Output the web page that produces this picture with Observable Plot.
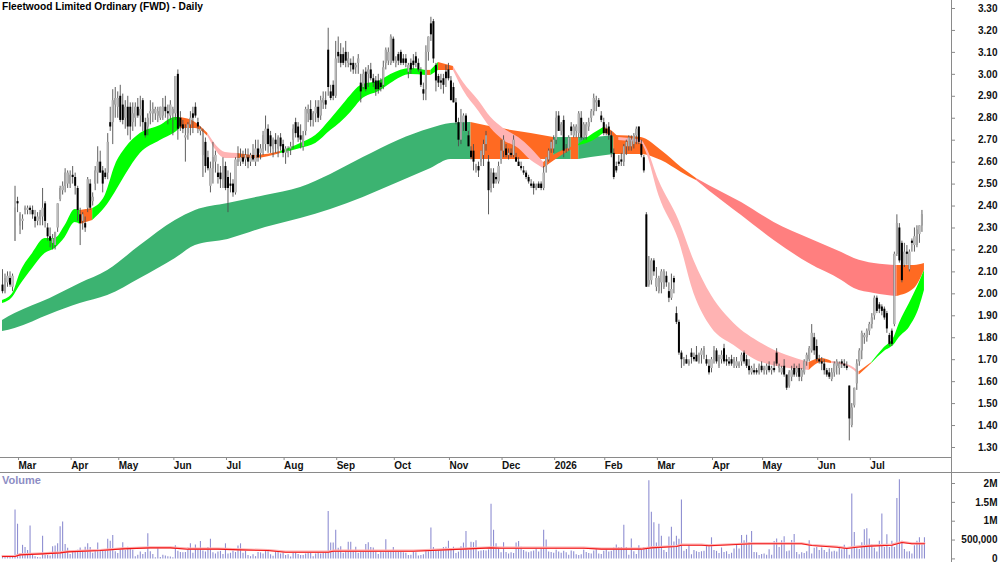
<!DOCTYPE html>
<html><head><meta charset="utf-8">
<script src="https://cdn.jsdelivr.net/npm/d3@7"></script>
<script src="https://cdn.jsdelivr.net/npm/@observablehq/plot@0.6"></script>
<style>
html,body{margin:0;padding:0;background:#fff;overflow:hidden}
#page{position:relative;width:1000px;height:562px;font-family:"Liberation Sans",Arial,sans-serif}
#price,#vol{position:absolute;left:0}
#price{top:0}#vol{top:472px}
#title{position:absolute;left:2px;top:1px;font-size:10.2px;font-weight:bold;color:#000;z-index:2}
#vlabel{position:absolute;left:2px;top:474px;font-size:11px;font-weight:bold;color:#8d8dc4;z-index:2}
.hline{position:absolute;left:0;height:1px;background:#8a8a8a}
.vline{position:absolute;left:951px;top:0;width:1px;height:562px;background:#8a8a8a}
</style></head><body>
<div id="page">
<div id="title">Fleetwood Limited Ordinary (FWD) - Daily</div>
<div id="vlabel">Volume</div>
<div id="price"></div><div id="vol"></div>
<div class="hline" style="top:472px;width:1000px"></div>
<div class="vline"></div>
</div>
<script>
// open, high, low, close per trading day, grouped by stretch of the chart
const candlesFeb=[[2.04,2.11,2.00,2.01],[2.01,2.09,2.00,2.07],[2.05,2.10,2.03,2.08],[2.07,2.10,2.03,2.04],[2.03,2.09,2.01,2.08],[2.24,2.49,2.24,2.39]];
const candlesMar=[[2.42,2.44,2.37,2.41],[2.31,2.37,2.27,2.36],[2.33,2.36,2.29,2.34],[2.38,2.40,2.36,2.39],[2.38,2.40,2.36,2.39],[2.39,2.40,2.36,2.38],[2.38,2.40,2.34,2.36],[2.35,2.38,2.30,2.33],[2.33,2.37,2.31,2.35],[2.34,2.38,2.31,2.37],[2.35,2.48,2.31,2.39],[2.41,2.42,2.30,2.33],[2.30,2.32,2.24,2.26],[2.26,2.30,2.21,2.24],[2.23,2.27,2.20,2.25],[2.22,2.28,2.20,2.28],[2.30,2.41,2.28,2.41],[2.43,2.49,2.42,2.48],[2.47,2.51,2.45,2.49],[2.49,2.57,2.46,2.55],[2.50,2.56,2.48,2.55]];
const candlesApr=[[2.50,2.56,2.48,2.54],[2.54,2.58,2.50,2.53],[2.53,2.55,2.45,2.49],[2.48,2.49,2.33,2.38],[2.36,2.39,2.22,2.32],[2.33,2.37,2.29,2.36],[2.32,2.35,2.28,2.30],[2.39,2.53,2.37,2.52],[2.50,2.52,2.38,2.39],[2.42,2.46,2.40,2.44],[2.50,2.58,2.47,2.56],[2.55,2.67,2.50,2.60],[2.60,2.65,2.55,2.55],[2.56,2.58,2.46,2.50],[2.55,2.57,2.52,2.53],[2.55,2.73,2.52,2.69],[2.78,2.85,2.74,2.76],[2.78,2.93,2.68,2.88],[2.86,2.94,2.80,2.89]];
const candlesMay=[[2.85,2.92,2.80,2.89],[2.90,2.95,2.78,2.79],[2.86,2.91,2.77,2.79],[2.80,2.88,2.75,2.85],[2.85,2.90,2.72,2.76],[2.85,2.87,2.70,2.76],[2.78,2.87,2.74,2.82],[2.80,2.87,2.76,2.85],[2.85,2.89,2.80,2.81],[2.81,2.90,2.76,2.84],[2.88,2.89,2.74,2.78],[2.78,2.80,2.71,2.72],[2.76,2.82,2.72,2.80],[2.82,2.88,2.77,2.83],[2.82,2.87,2.78,2.84],[2.82,2.85,2.79,2.84],[2.81,2.85,2.78,2.83],[2.80,2.85,2.79,2.85],[2.81,2.89,2.79,2.85],[2.85,2.90,2.80,2.83],[2.83,2.86,2.77,2.82],[2.81,2.88,2.79,2.86],[2.82,2.85,2.72,2.84]];
const candlesJun=[[2.82,2.99,2.79,2.99],[3.00,3.02,2.70,2.75],[2.80,2.83,2.74,2.76],[2.77,2.79,2.73,2.75],[2.71,2.77,2.60,2.72],[2.73,2.78,2.70,2.77],[2.77,2.83,2.72,2.80],[2.82,2.85,2.73,2.80],[2.85,2.87,2.80,2.81],[2.78,2.80,2.73,2.76],[2.74,2.76,2.72,2.75],[2.63,2.75,2.53,2.73],[2.69,2.71,2.55,2.58],[2.62,2.65,2.56,2.57],[2.49,2.60,2.46,2.57],[2.57,2.69,2.50,2.62],[2.60,2.65,2.55,2.63],[2.55,2.59,2.50,2.53],[2.55,2.58,2.48,2.52],[2.52,2.62,2.48,2.58]];
const candlesJul=[[2.58,2.60,2.47,2.48],[2.53,2.56,2.37,2.48],[2.50,2.55,2.46,2.49],[2.50,2.52,2.44,2.46],[2.46,2.62,2.45,2.61],[2.60,2.67,2.58,2.61],[2.60,2.66,2.58,2.62],[2.62,2.65,2.59,2.60],[2.61,2.66,2.58,2.63],[2.62,2.66,2.57,2.60],[2.60,2.64,2.58,2.63],[2.63,2.68,2.60,2.61],[2.60,2.70,2.58,2.66],[2.66,2.70,2.60,2.62],[2.64,2.68,2.61,2.66],[2.66,2.74,2.63,2.72],[2.68,2.81,2.65,2.75],[2.75,2.77,2.64,2.68],[2.72,2.74,2.64,2.67],[2.66,2.71,2.62,2.70],[2.70,2.73,2.64,2.68],[2.66,2.72,2.62,2.71],[2.71,2.73,2.65,2.67]];
const candlesAug=[[2.68,2.70,2.62,2.64],[2.64,2.67,2.59,2.66],[2.64,2.67,2.62,2.65],[2.66,2.69,2.63,2.67],[2.70,2.77,2.66,2.75],[2.78,2.80,2.71,2.73],[2.76,2.78,2.69,2.71],[2.72,2.77,2.66,2.70],[2.67,2.74,2.65,2.72],[2.74,2.85,2.72,2.84],[2.82,2.86,2.78,2.84],[2.84,2.88,2.76,2.79],[2.79,2.83,2.76,2.82],[2.82,2.88,2.78,2.85],[2.85,2.88,2.78,2.80],[2.81,2.90,2.79,2.88],[2.87,2.92,2.84,2.89],[2.88,2.92,2.84,2.86],[3.11,3.21,2.90,2.94],[2.92,2.95,2.88,2.89],[2.95,2.97,2.88,2.90]];
const candlesSep=[[2.90,3.15,2.89,3.07],[3.10,3.17,3.05,3.08],[3.09,3.14,3.03,3.05],[3.09,3.12,3.04,3.05],[3.10,3.15,3.03,3.06],[3.05,3.10,3.03,3.07],[3.05,3.07,3.01,3.04],[3.05,3.08,3.00,3.02],[3.03,3.05,3.00,3.04],[3.05,3.09,3.00,3.07],[2.96,3.00,2.87,2.92],[2.94,3.02,2.93,3.00],[3.01,3.03,2.92,2.93],[3.00,3.04,2.94,3.02],[3.02,3.05,2.97,2.98],[2.98,3.00,2.94,2.96],[2.97,2.99,2.90,2.93],[2.97,3.00,2.91,2.93],[2.96,2.98,2.92,2.94],[2.95,3.06,2.93,3.03],[3.05,3.12,3.02,3.11],[3.06,3.12,3.04,3.10]];
const candlesOct=[[3.05,3.18,3.04,3.17],[3.16,3.17,3.05,3.06],[3.05,3.08,3.03,3.06],[3.09,3.10,3.04,3.06],[3.10,3.11,3.04,3.05],[3.07,3.09,3.04,3.05],[3.07,3.09,3.03,3.05],[3.01,3.05,2.98,3.04],[3.05,3.07,3.00,3.02],[3.06,3.09,3.02,3.04],[3.08,3.10,3.03,3.05],[3.05,3.07,3.01,3.02],[3.01,3.03,2.94,2.95],[2.93,2.96,2.88,2.91],[2.93,3.13,2.88,3.10],[3.10,3.17,3.06,3.17],[3.23,3.26,3.15,3.18],[3.24,3.25,3.05,3.07],[3.04,3.05,2.92,2.97],[2.99,3.00,2.94,2.96],[2.97,3.00,2.93,2.96],[2.98,3.00,2.91,2.95],[3.01,3.04,2.94,2.98]];
const candlesNov=[[3.02,3.05,2.97,2.98],[2.97,2.99,2.88,2.88],[2.94,2.96,2.87,2.87],[2.87,2.89,2.77,2.78],[2.78,2.80,2.67,2.70],[2.70,2.84,2.68,2.78],[2.78,2.82,2.74,2.81],[2.81,2.82,2.74,2.74],[2.72,2.74,2.67,2.67],[2.65,2.67,2.61,2.62],[2.65,2.68,2.56,2.60],[2.57,2.59,2.55,2.58],[2.58,2.60,2.53,2.56],[2.60,2.65,2.58,2.65],[2.63,2.70,2.58,2.68],[2.68,2.74,2.65,2.72],[2.60,2.63,2.36,2.47],[2.48,2.57,2.46,2.55],[2.55,2.57,2.48,2.50],[2.53,2.55,2.50,2.52],[2.51,2.60,2.50,2.58]];
const candlesDec=[[2.61,2.70,2.59,2.65],[2.65,2.72,2.62,2.70],[2.66,2.68,2.62,2.63],[2.63,2.66,2.61,2.64],[2.64,2.66,2.62,2.63],[2.63,2.72,2.62,2.70],[2.62,2.64,2.60,2.60],[2.60,2.62,2.58,2.58],[2.58,2.60,2.56,2.57],[2.56,2.58,2.54,2.55],[2.55,2.56,2.52,2.53],[2.53,2.54,2.50,2.51],[2.50,2.52,2.48,2.49],[2.50,2.51,2.45,2.48],[2.48,2.50,2.47,2.49],[2.50,2.51,2.48,2.48],[2.50,2.51,2.47,2.48],[2.48,2.58,2.47,2.55],[2.58,2.62,2.55,2.62],[2.61,2.66,2.60,2.65],[2.66,2.70,2.64,2.69]];
const candlesJan=[[2.66,2.72,2.64,2.70],[2.70,2.83,2.68,2.80],[2.81,2.83,2.74,2.74],[2.74,2.78,2.72,2.77],[2.79,2.81,2.62,2.65],[2.66,2.68,2.64,2.66],[2.66,2.72,2.65,2.71],[2.76,2.78,2.72,2.74],[2.72,2.77,2.71,2.76],[2.74,2.77,2.71,2.76],[2.73,2.83,2.71,2.82],[2.80,2.83,2.70,2.71],[2.71,2.78,2.70,2.77],[2.72,2.78,2.70,2.77],[2.76,2.80,2.74,2.78],[2.80,2.84,2.78,2.83],[2.83,2.91,2.81,2.89],[2.87,2.90,2.83,2.88],[2.88,2.89,2.85,2.85],[2.81,2.83,2.78,2.79]];
const candlesFeb26=[[2.78,2.80,2.72,2.73],[2.75,2.77,2.72,2.73],[2.76,2.78,2.70,2.72],[2.72,2.74,2.62,2.64],[2.64,2.66,2.52,2.53],[2.58,2.60,2.55,2.56],[2.60,2.63,2.58,2.59],[2.61,2.64,2.58,2.60],[2.60,2.68,2.58,2.67],[2.67,2.70,2.63,2.69],[2.67,2.72,2.65,2.71],[2.67,2.72,2.65,2.70],[2.68,2.73,2.66,2.72],[2.72,2.76,2.68,2.75],[2.76,2.76,2.68,2.69],[2.68,2.70,2.62,2.63],[2.62,2.63,2.55,2.56],[2.36,2.37,2.03,2.03],[2.04,2.17,2.03,2.06],[2.06,2.16,2.04,2.15]];
const candlesMar26=[[2.15,2.16,2.08,2.10],[2.03,2.12,2.01,2.07],[2.01,2.08,2.00,2.07],[2.05,2.11,2.00,2.10],[2.03,2.11,2.02,2.10],[2.08,2.10,2.03,2.05],[2.01,2.05,1.96,1.98],[1.98,2.09,1.97,2.02],[2.07,2.08,2.00,2.05],[1.91,1.94,1.86,1.87],[1.87,1.88,1.72,1.73],[1.73,1.74,1.66,1.70],[1.68,1.71,1.67,1.70],[1.70,1.72,1.68,1.68],[1.68,1.70,1.67,1.69],[1.73,1.75,1.68,1.71],[1.71,1.73,1.69,1.70],[1.72,1.76,1.69,1.69],[1.69,1.73,1.68,1.72],[1.72,1.75,1.68,1.74],[1.71,1.76,1.70,1.75],[1.70,1.72,1.67,1.68],[1.67,1.70,1.63,1.64]];
const candlesApr26=[[1.66,1.71,1.64,1.70],[1.70,1.76,1.68,1.74],[1.74,1.75,1.68,1.69],[1.67,1.72,1.66,1.71],[1.70,1.74,1.68,1.72],[1.75,1.77,1.68,1.69],[1.70,1.72,1.67,1.69],[1.69,1.71,1.67,1.68],[1.70,1.72,1.67,1.68],[1.69,1.71,1.66,1.70],[1.67,1.71,1.66,1.69],[1.67,1.69,1.66,1.68],[1.69,1.73,1.67,1.72],[1.73,1.74,1.68,1.69],[1.70,1.72,1.66,1.67],[1.67,1.70,1.63,1.65],[1.64,1.67,1.63,1.66],[1.65,1.68,1.63,1.64],[1.65,1.66,1.63,1.64],[1.64,1.68,1.63,1.67]];
const candlesMay26=[[1.67,1.69,1.64,1.65],[1.65,1.67,1.63,1.66],[1.65,1.68,1.63,1.67],[1.67,1.69,1.64,1.65],[1.65,1.67,1.63,1.66],[1.66,1.69,1.64,1.65],[1.73,1.75,1.67,1.68],[1.66,1.68,1.64,1.67],[1.64,1.67,1.63,1.66],[1.67,1.70,1.62,1.63],[1.63,1.63,1.56,1.57],[1.58,1.65,1.57,1.64],[1.62,1.67,1.60,1.65],[1.66,1.68,1.62,1.63],[1.64,1.67,1.62,1.66],[1.66,1.68,1.60,1.62],[1.62,1.66,1.60,1.65],[1.64,1.70,1.63,1.69],[1.69,1.73,1.67,1.72],[1.70,1.76,1.69,1.75],[1.74,1.86,1.73,1.82]];
const candlesJun26=[[1.80,1.82,1.72,1.74],[1.76,1.79,1.69,1.70],[1.70,1.72,1.68,1.69],[1.69,1.71,1.65,1.68],[1.68,1.70,1.63,1.65],[1.65,1.66,1.62,1.63],[1.64,1.66,1.61,1.62],[1.61,1.66,1.60,1.64],[1.64,1.69,1.62,1.68],[1.67,1.70,1.63,1.69],[1.66,1.69,1.63,1.68],[1.69,1.70,1.66,1.68],[1.68,1.70,1.66,1.67],[1.67,1.69,1.65,1.66],[1.58,1.58,1.33,1.43],[1.40,1.50,1.39,1.48],[1.49,1.57,1.48,1.57],[1.59,1.70,1.56,1.68],[1.69,1.75,1.67,1.74],[1.74,1.83,1.70,1.82],[1.80,1.82,1.77,1.81]];
const candlesJul26=[[1.80,1.84,1.78,1.83],[1.83,1.87,1.81,1.86],[1.86,1.91,1.84,1.89],[1.90,1.99,1.88,1.98],[1.98,1.99,1.91,1.92],[1.95,1.96,1.91,1.93],[1.94,1.95,1.90,1.92],[1.93,1.94,1.88,1.89],[1.91,1.92,1.82,1.84],[1.81,1.82,1.76,1.77],[1.83,1.84,1.76,1.77],[1.86,2.19,1.85,2.18],[2.18,2.36,2.17,2.32],[2.30,2.32,2.14,2.15],[2.23,2.24,2.05,2.06],[2.13,2.23,2.12,2.19],[2.19,2.22,2.13,2.18],[2.11,2.20,2.10,2.19],[2.24,2.25,2.19,2.23],[2.22,2.30,2.19,2.26],[2.22,2.31,2.21,2.29],[2.27,2.31,2.23,2.31],[2.31,2.38,2.28,2.36]];

// volume in thousands of shares, per trading day, in chunks of a hundred
const volumesA=[80,60,50,50,70,1300,920,130,360,300,220,870,100,60,40,30,600,100,90,80,320,340,400,850,980,380,280,120,200,190,230,290,200,310,400,300,150,220,420,230,230,240,520,470,620,190,140,230,430,220,310,250,230,60,100,180,120,170,670,190,120,30,290,40,100,80,60,50,30,350,200,170,160,170,290,400,150,370,240,460,210,180,300,520,160,130,180,200,120,400,130,150,200,170,340,400,150,200,90,60];
const volumesB=[110,60,170,160,130,230,200,110,70,190,170,130,180,90,110,50,140,170,120,90,90,130,140,150,60,130,160,130,150,180,1260,420,420,760,280,320,150,180,440,440,200,310,150,170,180,380,430,300,290,180,120,180,160,510,190,170,300,170,170,170,160,150,90,100,180,160,80,90,110,210,190,820,300,240,240,220,300,310,470,230,310,140,180,320,420,730,220,440,430,480,190,210,220,210,240,1450,760,400,300,160];
const volumesC=[430,170,130,160,140,420,460,310,220,180,160,190,210,260,180,250,760,500,180,170,150,230,180,150,200,160,100,210,190,110,90,110,230,170,140,130,210,270,130,120,200,250,180,200,290,370,300,300,890,300,100,530,190,120,350,230,300,250,2070,1240,960,420,920,600,220,170,580,840,450,600,520,1560,200,250,360,110,220,190,170,190,200,340,340,560,220,200,140,290,170,190,120,150,260,380,260,620,480,630,430,730];
const volumesD=[170,160,90,120,130,100,240,100,460,530,300,480,590,190,210,490,650,170,110,160,140,190,480,130,280,300,220,290,220,170,260,180,200,180,330,240,360,300,100,1720,700,270,250,430,770,800,530,370,280,180,470,1190,300,640,300,470,300,1600,2100,470,250,180,190,130,350,470,560,370,560];

// volume moving average, read at turning points: day, thousands
const maDays=[0,5,7,16,23,26,39,48,59,67,74,86,95,106,113,130,132,164,186,195,199,232,239,255,259,269,271,279,282,293,299,319,323,333,337,341,346,355,359,363,368];
const maValues=[62,62,107,133,160,187,222,267,293,293,258,258,240,222,178,178,204,204,267,293,284,284,258,258,293,329,364,364,347,382,400,400,356,311,276,311,338,364,436,400,400];

// slow moving-average ribbon: day, upper edge, lower edge, state from that day on
const slowDays=[0,5,19,31,42,55,69,77,90,105,119,131,144,158,171,179,187,199,211,220,227,230,235,244,255,263,271,277,282,295,308,322,335,340,348,357,364,368];
const slowTops=[1.879,1.91,1.979,2.047,2.106,2.22,2.334,2.38,2.412,2.448,2.484,2.544,2.621,2.699,2.753,2.776,2.781,2.753,2.73,2.712,2.712,2.712,2.712,2.721,2.712,2.653,2.576,2.526,2.494,2.416,2.325,2.252,2.188,2.161,2.138,2.129,2.129,2.138];
const slowBottoms=[1.828,1.842,1.906,1.956,1.992,2.07,2.161,2.22,2.248,2.302,2.343,2.384,2.439,2.507,2.571,2.612,2.612,2.612,2.612,2.612,2.612,2.612,2.621,2.635,2.635,2.607,2.553,2.516,2.47,2.357,2.243,2.138,2.061,2.024,2.002,1.988,2.024,2.106];
const slowStates=["up","up","up","up","up","up","up","up","up","up","up","up","up","up","up","up","mixed","mixed","mixed","up","mixed","up","up","mixed","mixed","mixed","mixed","down","down","down","down","down","down","down","down","mixed","mixed","mixed"];

// fast moving-average ribbon
const fastDays=[0,4,7,12,17,21,25,29,31,36,41,45,49,55,63,69,71,77,82,89,94,101,111,119,125,131,135,139,143,151,155,163,169,171,174,180,184,190,195,200,206,211,216,217,230,236,240,243,246,255,257,262,270,276,283,292,303,322,327,331,338,342,347,352,356,358,362,366,368];
const fastTops=[1.97,2.0,2.093,2.184,2.252,2.252,2.311,2.384,2.38,2.389,2.448,2.585,2.662,2.73,2.767,2.803,2.803,2.781,2.73,2.644,2.639,2.63,2.648,2.685,2.721,2.794,2.849,2.904,2.949,2.972,2.999,3.027,3.018,3.018,3.054,3.036,2.963,2.881,2.803,2.753,2.712,2.662,2.598,2.607,2.68,2.73,2.758,2.744,2.712,2.699,2.667,2.516,2.334,2.152,1.992,1.865,1.774,1.687,1.705,1.692,1.675,1.645,1.687,1.755,1.805,1.865,1.956,2.052,2.106];
const fastBottoms=[1.956,1.983,2.038,2.116,2.184,2.207,2.257,2.325,2.316,2.334,2.393,2.462,2.539,2.639,2.699,2.735,2.753,2.753,2.717,2.617,2.617,2.617,2.639,2.662,2.685,2.744,2.781,2.826,2.881,2.926,2.958,2.999,2.995,2.995,3.018,3.018,2.926,2.833,2.753,2.699,2.662,2.607,2.571,2.58,2.675,2.699,2.73,2.721,2.699,2.685,2.644,2.448,2.243,2.002,1.846,1.765,1.687,1.651,1.687,1.683,1.665,1.63,1.683,1.737,1.769,1.801,1.847,1.938,2.015];
const fastStates=["fastUp","fastUp","fastUp","fastUp","fastUp","fastUp","fastUp","fastUp","mixed","fastUp","fastUp","fastUp","fastUp","fastUp","fastUp","fastUp","mixed","mixed","fastDown","fastDown","mixed","mixed","fastUp","fastUp","fastUp","fastUp","fastUp","fastUp","fastUp","fastUp","fastUp","fastUp","mixed","fastUp","mixed","fastDown","fastDown","fastDown","fastDown","fastDown","fastDown","fastDown","mixed","mixed","fastUp","fastUp","mixed","mixed","fastDown","fastDown","fastDown","fastDown","fastDown","fastDown","fastDown","fastDown","fastDown","mixed","mixed","fastDown","fastDown","mixed","fastUp","fastUp","fastUp","fastUp","fastUp","fastUp","fastUp"];

const stateNames=["up","mixed","down","fastUp","fastDown"];
const stateColors=["#3cb371","#ff6a22","#ff7f7f","#00ff00","#ffb3b3"];
const monthDays=[6,27,46,68,89,112,133,156,178,199,220,240,261,283,303,325,346];
const monthLabels=["Mar","Apr","May","Jun","Jul","Aug","Sep","Oct","Nov","Dec","2026","Feb","Mar","Apr","May","Jun","Jul"];
const priceTicks=[1.3,1.4,1.5,1.6,1.7,1.8,1.9,2.0,2.1,2.2,2.3,2.4,2.5,2.6,2.7,2.8,2.9,3.0,3.1,3.2,3.3];
const volumeTicks=[0,500000,1000000,1500000,2000000];
const volumeTickLabels=["0","500,000","1M","1.5M","2M"];

const candles=[...candlesFeb,...candlesMar,...candlesApr,...candlesMay,...candlesJun,...candlesJul,...candlesAug,...candlesSep,...candlesOct,...candlesNov,...candlesDec,...candlesJan,...candlesFeb26,...candlesMar26,...candlesApr26,...candlesMay26,...candlesJun26,...candlesJul26]
  .map(([open,high,low,close],day)=>({day,open,high,low,close,top:Math.max(open,close),bot:Math.min(open,close)}));
const ups=candles.filter(d=>d.close>=d.open), downs=candles.filter(d=>d.close<d.open);
const volumes=[...volumesA,...volumesB,...volumesC,...volumesD].map((v,day)=>({day,volume:v*1000}));
const avg=maDays.map((day,i)=>({day,value:maValues[i]*1000}));

// split a ribbon into runs of one state, sharing the knot where the state changes
function runs(days,tops,bottoms,states,prefix){
  const rows=[];let run=0;
  for(let i=0;i<days.length;i++){
    const s=states[i];
    rows.push({day:days[i],top:tops[i],bottom:bottoms[i],state:s,run:prefix+run});
    if(i+1<days.length&&states[i+1]!==s){
      run++;
      rows.push({day:days[i+1],top:tops[i+1],bottom:bottoms[i+1],state:s,run:prefix+(run-1)});
    }
  }
  return rows;
}
const slow=runs(slowDays,slowTops,slowBottoms,slowStates,"s");
const fast=runs(fastDays,fastTops,fastBottoms,fastStates,"f");

const xOpts={type:"linear",domain:[-0.8,378.8],range:[0,951],axis:null};
const font='"Liberation Sans",Arial,sans-serif';

const price=Plot.plot({
  width:1000,height:472,marginTop:0,marginBottom:15,marginLeft:0,marginRight:49,
  style:{fontFamily:font,background:"transparent"},
  x:xOpts,
  y:{domain:[1.2544,3.3364],range:[457,0],axis:null},
  color:{domain:stateNames,range:stateColors},
  marks:[
    Plot.areaY(slow,{x:"day",y1:"bottom",y2:"top",z:"run",fill:"state",curve:"monotone-x"}),
    Plot.areaY(fast,{x:"day",y1:"bottom",y2:"top",z:"run",fill:"state",curve:"monotone-x"}),
    Plot.ruleX(candles,{x:"day",y1:"low",y2:"high",stroke:"#4d4d4d",strokeWidth:0.9}),
    Plot.ruleX(ups,{x:"day",y1:"bot",y2:"top",stroke:"#7d7d7d",strokeWidth:2,strokeLinecap:"butt"}),
    Plot.ruleX(ups,{x:"day",y1:"bot",y2:"top",stroke:"#d8d8d8",strokeWidth:0.8}),
    Plot.ruleX(downs,{x:"day",y1:"bot",y2:"top",stroke:"#000",strokeWidth:2}),
    Plot.ruleY([1.2544],{stroke:"#8a8a8a"}),
    Plot.axisY(priceTicks,{anchor:"right",tickSize:3,tickPadding:43,textAnchor:"end",tickFormat:d=>d.toFixed(2),
      fontSize:10,fontWeight:"bold",fill:"#111",stroke:"#8a8a8a",textStroke:"none",label:null}),
    Plot.axisX(monthDays,{anchor:"bottom",tickSize:3,tickPadding:1,textAnchor:"start",dx:1,tickFormat:(d,i)=>monthLabels[i],
      fontSize:10,fontWeight:"bold",fill:"#111",stroke:"#8a8a8a",textStroke:"none",label:null})
  ]
});
document.getElementById("price").appendChild(price);

const vol=Plot.plot({
  width:1000,height:90,marginTop:0,marginBottom:3.6,marginLeft:0,marginRight:49,
  style:{fontFamily:font,background:"transparent"},
  x:xOpts,
  y:{domain:[0,2292000],range:[86.4,0],axis:null},
  marks:[
    Plot.ruleX(volumes,{x:"day",y1:0,y2:"volume",stroke:"#8f8fd2",strokeWidth:1.1}),
    Plot.line(avg,{x:"day",y:"value",stroke:"#ffb0b0",strokeWidth:2.2,dy:-0.5}),
    Plot.line(avg,{x:"day",y:"value",stroke:"#f01818",strokeWidth:1.1}),
    Plot.axisY(volumeTicks,{anchor:"right",tickSize:3,tickPadding:43,textAnchor:"end",tickFormat:(d,i)=>volumeTickLabels[i],
      fontSize:10,fontWeight:"bold",fill:"#111",stroke:"#8a8a8a",textStroke:"none",label:null})
  ]
});
document.getElementById("vol").appendChild(vol);
</script>
</body></html>
